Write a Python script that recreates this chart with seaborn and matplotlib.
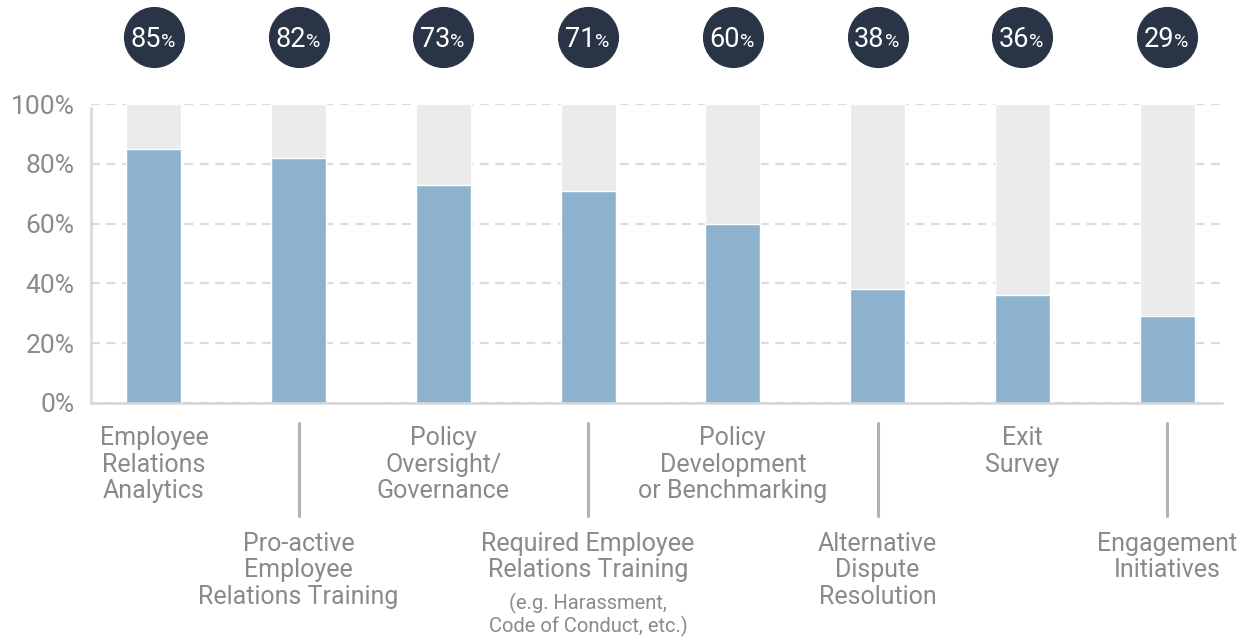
import matplotlib
matplotlib.use('Agg')
import matplotlib.pyplot as plt
import pandas as pd
import seaborn as sns

categories = ['Employee\nRelations\nAnalytics',
              'Pro-active\nEmployee\nRelations Training',
              'Policy\nOversight/\nGovernance',
              'Required Employee\nRelations Training',
              'Policy\nDevelopment\nor Benchmarking',
              'Alternative\nDispute\nResolution',
              'Exit\nSurvey',
              'Engagement\nInitiatives']
values = [85, 82, 73, 71, 60, 38, 36, 29]
notes = ['', '', '', '(e.g. Harassment,\nCode of Conduct, etc.)', '', '', '', '']
yticks = [0, 20, 40, 60, 80, 100]

BLUE = '#8cb2cd'
BG = '#ebebeb'
NAVY = '#293546'
TXT = '#8a8a8a'

sns.set_style('white')
plt.rcParams['font.family'] = ['Roboto', 'DejaVu Sans']

df = pd.DataFrame({'cat': range(len(values)), 'val': values, 'full': [100] * len(values)})

fig, ax = plt.subplots(figsize=(12.52, 6.39), dpi=100)
fig.subplots_adjust(left=91 / 1252, right=1222 / 1252, top=1 - 104 / 639, bottom=1 - 403 / 639)

ax.set_axisbelow(True)
ax.yaxis.grid(True, color='#dcdcdc', linestyle=(0, (4, 3)), linewidth=1.6)
sns.barplot(data=df, x='cat', y='full', color=BG, width=0.38, saturation=1, ax=ax)
sns.barplot(data=df, x='cat', y='val', color=BLUE, width=0.38, saturation=1, ax=ax)

ax.set_xlim(-0.435, 7.38)
ax.set_ylim(0, 100)
ax.set_yticks(yticks)
ax.set_yticklabels([f'{t}%' for t in yticks])
ax.tick_params(axis='y', length=0, pad=12, labelsize=19, labelcolor=TXT)
ax.tick_params(axis='x', length=0)
ax.set_xticklabels([])
ax.set_xlabel('')
ax.set_ylabel('')

for s in ['top', 'right']:
    ax.spines[s].set_visible(False)
for s in ['left', 'bottom']:
    ax.spines[s].set_color('#d6d6d6')
    ax.spines[s].set_linewidth(1.8)
ax.spines['left'].set_bounds(0, 98.5)

# value badges on top
ax.scatter(range(len(values)), [122.4] * len(values), s=1850, color=NAVY, clip_on=False, zorder=5)
for i, v in enumerate(values):
    ax.annotate(str(v), (i, 122.4), xytext=(5, -7), textcoords='offset points', ha='right', va='baseline',
                color='white', fontsize=19.5, zorder=6, annotation_clip=False)
    ax.annotate('%', (i, 122.4), xytext=(5, -7), textcoords='offset points', ha='left', va='baseline',
                color='white', fontsize=14, zorder=6, annotation_clip=False)

# category labels, alternating rows
lab_kw = dict(xycoords=('data', 'axes fraction'), ha='center', va='top', fontsize=18, color=TXT,
              linespacing=1.13, annotation_clip=False)
for i, cat in enumerate(categories):
    if i % 2 == 0:
        ax.annotate(cat, (i, -0.078), **lab_kw)
    else:
        ax.plot([i, i], [-0.067, -0.378], transform=ax.get_xaxis_transform(), color='#b3b3b3',
                linewidth=2.2, clip_on=False)
        ax.annotate(cat, (i, -0.43), **lab_kw)
        if notes[i]:
            ax.annotate(notes[i], (i, -0.635), xycoords=('data', 'axes fraction'), ha='center', va='top',
                        fontsize=14.5, color=TXT, linespacing=1.1, annotation_clip=False)

fig.savefig('out.png', dpi=100)
